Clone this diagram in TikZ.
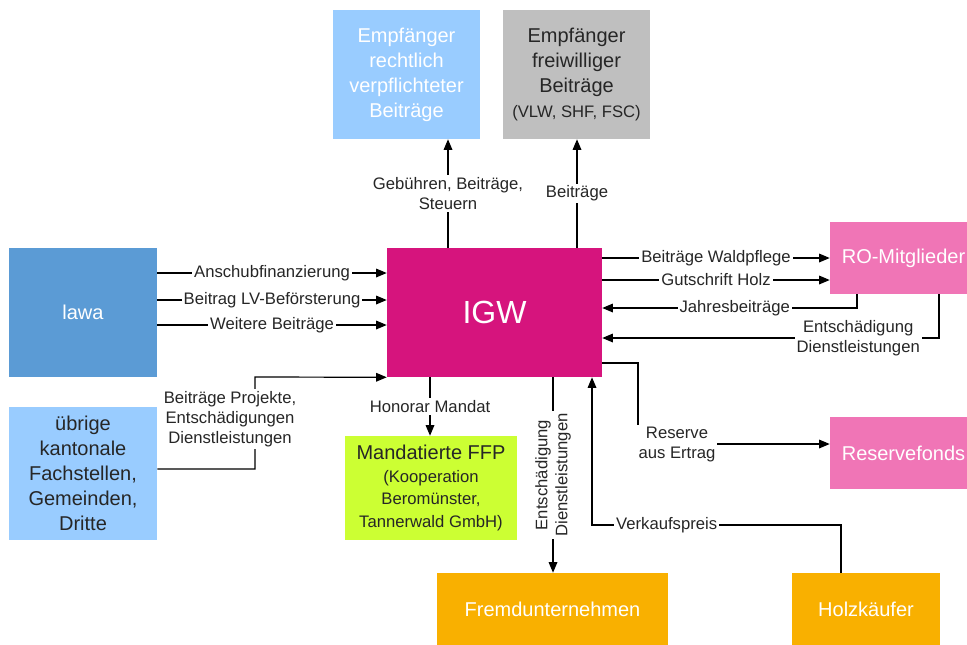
\documentclass[tikz,border=0pt]{standalone}
\usepackage{fontspec}
\setmainfont{Liberation Sans}
\usetikzlibrary{arrows.meta}
\definecolor{igwmag}{HTML}{D6147D}
\definecolor{lawablue}{HTML}{5B9BD5}
\definecolor{lightblue}{HTML}{99CCFF}
\definecolor{boxgray}{HTML}{BFBFBF}
\definecolor{ropink}{HTML}{F075B6}
\definecolor{ffplime}{HTML}{CCFF33}
\definecolor{extorange}{HTML}{F9B000}
\definecolor{txtdark}{HTML}{262626}

\begin{document}
\begin{tikzpicture}[x=0.75pt, y=-0.75pt,
    box/.style={fill=#1, inner sep=0pt, align=center, text=white,
                font=\fontsize{15}{18.75}\selectfont},
    lbl/.style={fill=white, inner sep=1.5pt, align=center, text=txtdark,
                font=\fontsize{12.5}{15}\selectfont},
    arr/.style={-{Triangle[length=8pt, width=6.5pt]}, line width=0.9pt},
]
    \path[use as bounding box, fill=white] (0,0) rectangle (967,644);

    % boxes
    \node[box=lawablue, minimum width=111pt, minimum height=96.75pt] (lawa) at (83,312.5) {lawa};
    \node[box=lightblue, text=txtdark, minimum width=111pt, minimum height=99.75pt] (uebrige) at (83,473.5) {
        übrige\\kantonale\\Fachstellen,\\Gemeinden,\\Dritte};
    \node[box=lightblue, minimum width=110.25pt, minimum height=96.75pt] (empfR) at (406.5,74.5) {
        Empfänger\\rechtlich\\verpflichteter\\Beiträge};
    \node[box=boxgray, text=txtdark, minimum width=110.25pt, minimum height=96.75pt] (empfF) at (576.5,74.5) {
        Empfänger\\freiwilliger\\Beiträge\\
        \fontsize{12.5}{15}\selectfont (VLW, SHF, FSC)};
    \node[box=igwmag, font=\fontsize{24}{28}\selectfont, minimum width=161.25pt, minimum height=96.75pt] (igw) at (494.5,312.5) {IGW};
    \node[box=ropink, minimum width=110.25pt, minimum height=54pt] (ro) at (903.5,258) {RO-Mitglieder};
    \node[box=ropink, minimum width=110.25pt, minimum height=54pt] (rf) at (903.5,453) {Reservefonds};
    \node[box=ffplime, text=txtdark, font=\fontsize{15}{17}\selectfont, minimum width=129pt, minimum height=78pt] (ffp) at (431,488) {
        Mandatierte FFP\\
        \fontsize{12.5}{17}\selectfont (Kooperation\\
        \fontsize{12.5}{17}\selectfont Beromünster,\\
        \fontsize{12.5}{17}\selectfont Tannerwald GmbH)};
    \node[box=extorange, minimum width=173.25pt, minimum height=54pt] (fremd) at (552.5,609) {Fremdunternehmen};
    \node[box=extorange, minimum width=111pt, minimum height=54pt] (holz) at (866,609) {Holzkäufer};

    % lawa -> IGW
    \draw[arr] (lawa.east |- 0,273) -- node[lbl] {Anschubfinanzierung} (igw.west |- 0,273);
    \draw[arr] (lawa.east |- 0,300) -- node[lbl] {Beitrag LV-Beförsterung} (igw.west |- 0,300);
    \draw[arr] (lawa.east |- 0,325) -- node[lbl] {Weitere Beiträge} (igw.west |- 0,325);

    % uebrige -> IGW
    \draw[arr] (uebrige.east |- 0,469) -- (255,469) -- (255,377) -- (igw.south west);
    \node[lbl] (projekte) at (230,419) {Beiträge Projekte,\\Entschädigungen\\Dienstleistungen};

    % IGW -> Empfaenger
    \draw[arr] (448,0 |- igw.north) -- node[lbl] {Gebühren, Beiträge,\\Steuern} (448,0 |- empfR.south);
    \draw[arr] (577,0 |- igw.north) -- node[lbl] {Beiträge} (577,0 |- empfF.south);

    % IGW <-> RO-Mitglieder
    \draw[arr] (igw.east |- 0,258) -- node[lbl] {Beiträge Waldpflege} (ro.west |- 0,258);
    \draw[arr] (igw.east |- 0,280) -- node[lbl] {Gutschrift Holz} (ro.west |- 0,280);
    \draw[arr] (857,0 |- ro.south) |- node[lbl, pos=0.74] {Jahresbeiträge} (igw.east |- 0,308);
    \draw[arr] (939,0 |- ro.south) |- node[lbl, pos=0.62] {Entschädigung\\Dienstleistungen} (igw.east |- 0,338);

    % IGW -> Reservefonds
    \draw[arr] (igw.east |- 0,363) -- (638,363) -- (638,444) -- (rf.west |- 0,444);
    \node[lbl] (reserve) at (677,444) {Reserve\\aus Ertrag};

    % IGW -> unten
    \draw[arr] (430,0 |- igw.south) -- node[lbl] {Honorar Mandat} (430,0 |- ffp.north);
    \draw[arr] (553,0 |- igw.south) -- node[lbl, rotate=90] {Entschädigung\\Dienstleistungen} (553,0 |- fremd.north);
    \draw[arr] (841,0 |- holz.north) -- (841,525) -- node[lbl, pos=0.7] {Verkaufspreis} (592,525) -- (592,0 |- igw.south);
\end{tikzpicture}
\end{document}
